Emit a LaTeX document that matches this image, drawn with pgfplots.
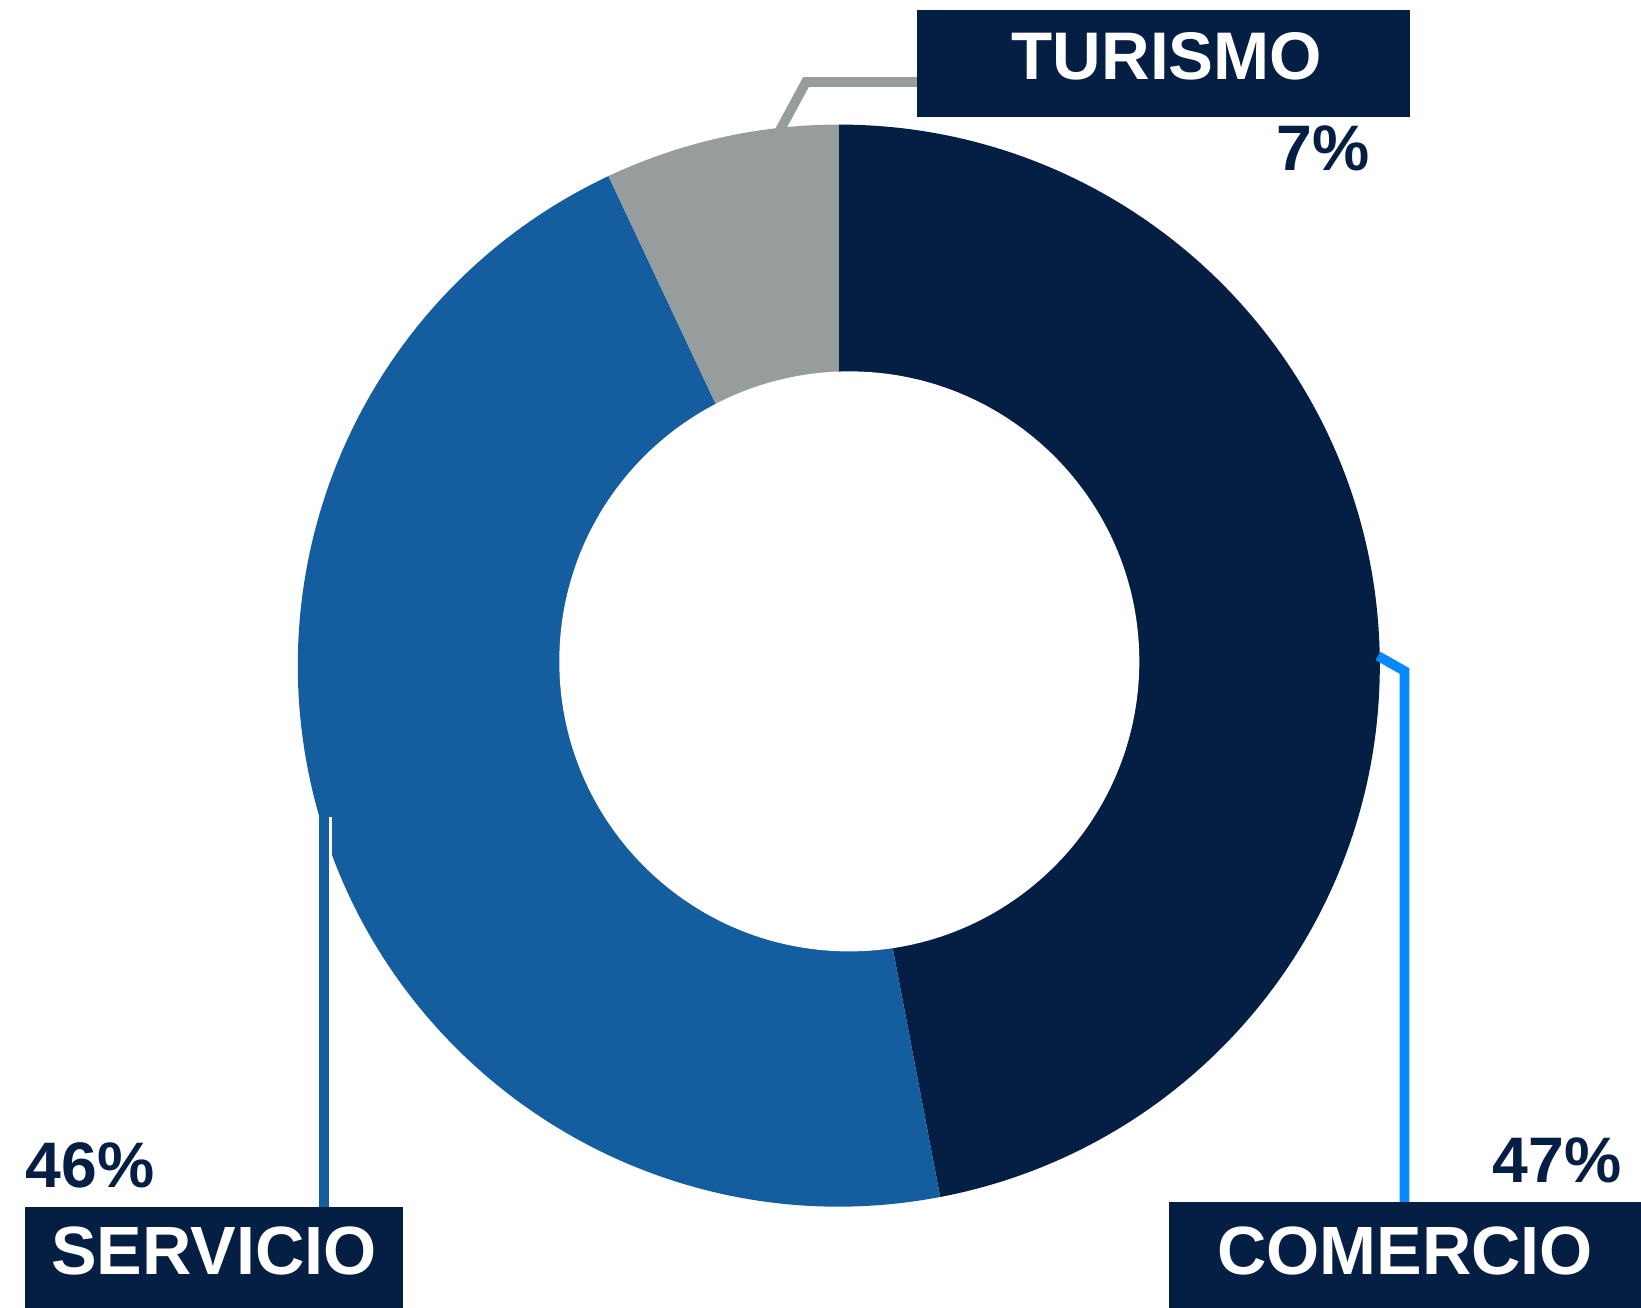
\documentclass[border=0pt]{standalone}
\usepackage{fontspec}
\setmainfont{Liberation Sans}
\usepackage{pgfplots}
\usepackage{pgfplotstable}
\pgfplotsset{compat=1.18}
\definecolor{navy}{RGB}{4,30,68}
\definecolor{sblue}{RGB}{20,94,160}
\definecolor{tgray}{RGB}{151,157,156}
\definecolor{lblue}{RGB}{8,136,255}
\pgfplotstableread{
label value
Comercio 47
Servicio 46
Turismo 7
}\datatable
\begin{document}
\begin{tikzpicture}
\pgfplotstablegetelem{0}{value}\of\datatable \edef\vA{\pgfplotsretval}
\pgfplotstablegetelem{1}{value}\of\datatable \edef\vB{\pgfplotsretval}
\pgfplotstablegetelem{2}{value}\of\datatable \edef\vC{\pgfplotsretval}
\pgfmathsetmacro\aO{90}
\pgfmathsetmacro\aA{90-3.6*\vA}
\pgfmathsetmacro\aB{\aA-3.6*\vB}
\pgfmathsetmacro\aC{\aB-3.6*\vC}
\def\R{162.3pt}
\def\rr{87pt}
\begin{axis}[scale only axis, width=492.3pt, height=392.4pt,
  xmin=0, xmax=1641, ymin=0, ymax=1308, hide axis, clip=false]
\path (axis cs:0,0) rectangle (axis cs:1641,1308);
% donut wedges
\fill[navy]  (axis cs:838.8,642.4) -- ++(\aO:\R) arc[start angle=\aO, end angle=\aA, radius=\R] -- cycle;
\fill[sblue] (axis cs:838.8,642.4) -- ++(\aA:\R) arc[start angle=\aA, end angle=\aB, radius=\R] -- cycle;
\fill[tgray] (axis cs:838.8,642.4) -- ++(\aB:\R) arc[start angle=\aB, end angle=\aC, radius=\R] -- cycle;
\fill[white] (axis cs:849.3,646.6) circle[radius=\rr];
% leader lines
\draw[tgray, line width=2.9pt] (axis cs:779,1176) -- (axis cs:806,1226) -- (axis cs:917,1226);
\draw[white, line width=4.8pt] (axis cs:324,491) -- (axis cs:324,101);
\draw[sblue, line width=3.1pt] (axis cs:324,491) -- (axis cs:324,101);
\draw[lblue, line width=2.9pt] (axis cs:1378,652) -- (axis cs:1404.5,637) -- (axis cs:1404.5,106);
% label boxes
\fill[navy] (axis cs:917,1191) rectangle (axis cs:1410,1297.5);
\fill[navy] (axis cs:25,0) rectangle (axis cs:403,101);
\fill[navy] (axis cs:1169,0) rectangle (axis cs:1641,106);
\node[anchor=base, text=white, inner sep=0pt, font=\bfseries\fontsize{20.2pt}{20.2pt}\selectfont] at (axis cs:1167,1228.5) {TURISMO};
\node[anchor=base, text=white, inner sep=0pt, font=\bfseries\fontsize{20.5pt}{20.5pt}\selectfont] at (axis cs:214,33.3) {SERVICIO};
\node[anchor=base, text=white, inner sep=0pt, font=\bfseries\fontsize{20.5pt}{20.5pt}\selectfont] at (axis cs:1405,33.3) {COMERCIO};
% percentages
\node[anchor=base east, text=navy, inner sep=0pt, font=\bfseries\fontsize{19.3pt}{19.3pt}\selectfont] at (axis cs:1370,1137.4) {\vC\%};
\node[anchor=base west, text=navy, inner sep=0pt, font=\bfseries\fontsize{19.3pt}{19.3pt}\selectfont] at (axis cs:25,120) {\vB\%};
\node[anchor=base east, text=navy, inner sep=0pt, font=\bfseries\fontsize{19.3pt}{19.3pt}\selectfont] at (axis cs:1622,125) {\vA\%};
\end{axis}
\end{tikzpicture}
\end{document}
